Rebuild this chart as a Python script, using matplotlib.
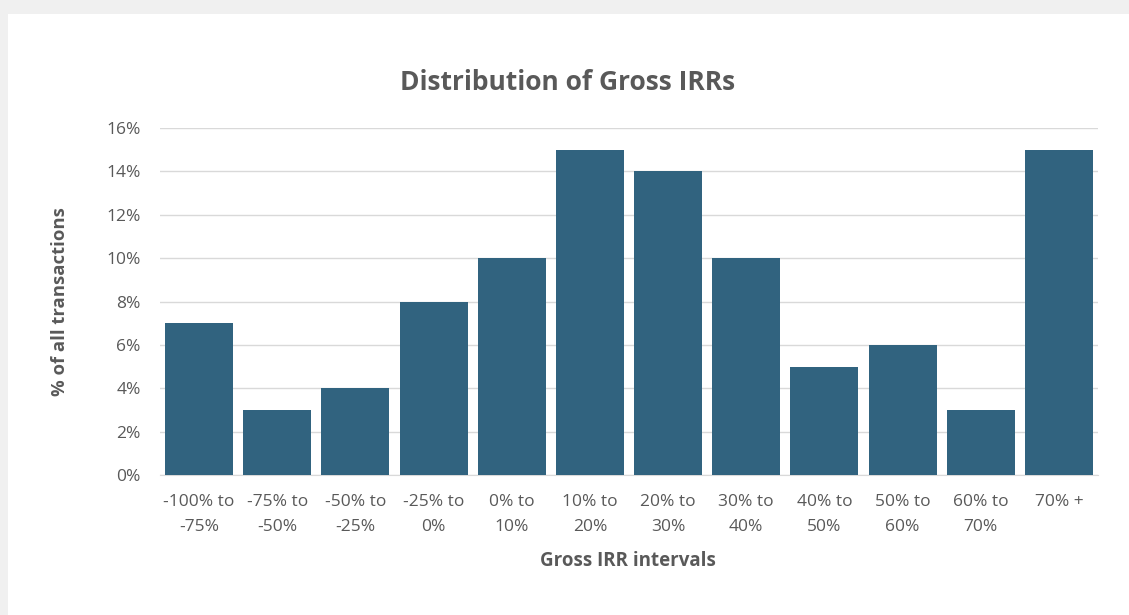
import matplotlib.pyplot as plt
from matplotlib.patches import Rectangle
from matplotlib.ticker import PercentFormatter

# Категории и значения
categories = ['-100% to\n-75%', '-75% to\n-50%', '-50% to\n-25%', '-25% to\n0%',
              '0% to\n10%', '10% to\n20%', '20% to\n30%', '30% to\n40%',
              '40% to\n50%', '50% to\n60%', '60% to\n70%', '70% +']
values = [7, 3, 4, 8, 10, 15, 14, 10, 5, 6, 3, 15]

plt.rcParams['font.family'] = ['Open Sans', 'DejaVu Sans']
text_color = '#595959'

fig = plt.figure(figsize=(11.29, 6.15), dpi=100, facecolor='#f0f0f0')
# белая область графика
fig.patches.append(Rectangle((8 / 1129, 0), 1, 1 - 14 / 615, transform=fig.transFigure,
                             facecolor='white', edgecolor='none', zorder=-1))

ax = fig.add_axes([160 / 1129, 1 - 475 / 615, (1098 - 160) / 1129, (475 - 128) / 615])
ax.set_zorder(2)
ax.set_facecolor('white')

ax.bar(range(len(values)), values, width=0.87, color='#31637f', zorder=3)
ax.set_xlim(-0.5, len(values) - 0.5)
ax.set_ylim(0, 16)
ax.set_yticks(range(0, 17, 2))
ax.yaxis.set_major_formatter(PercentFormatter(decimals=0))
ax.set_xticks(range(len(values)))
ax.set_xticklabels(categories, linespacing=1.75)

ax.grid(axis='y', color='#d9d9d9', linewidth=1, zorder=0)
ax.set_axisbelow(True)
for s in ['top', 'right', 'left']:
    ax.spines[s].set_visible(False)
ax.spines['bottom'].set_color('#d9d9d9')
ax.tick_params(length=0, labelsize=12.5, colors=text_color)
ax.tick_params(axis='x', pad=14)
ax.tick_params(axis='y', pad=14)

fig.text(568 / 1129, 1 - 82 / 615, 'Distribution of Gross IRRs', ha='center', va='center',
         fontsize=19, fontweight='bold', color=text_color)
fig.text(60 / 1129, 1 - 302 / 615, '% of all transactions', ha='center', va='center',
         rotation=90, fontsize=13.3, fontweight='bold', color=text_color)
fig.text(628 / 1129, 1 - 561 / 615, 'Gross IRR intervals', ha='center', va='center',
         fontsize=13.5, fontweight='bold', color=text_color)

fig.savefig('out.png', dpi=100, facecolor=fig.get_facecolor())
